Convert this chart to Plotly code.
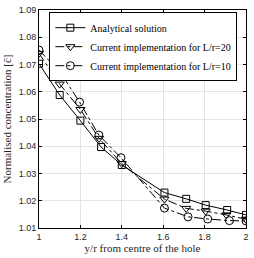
import plotly.graph_objects as go

# Data
x_analytical = [1.0, 1.1, 1.2, 1.3, 1.4, 1.606, 1.711, 1.805, 1.909, 2.0]
y_analytical = [1.0703, 1.0588, 1.0494, 1.0397, 1.0331, 1.0230, 1.0207, 1.0184, 1.0166, 1.0148]

x_l20 = [1.0, 1.1, 1.2, 1.29, 1.4, 1.606, 1.711, 1.805, 1.905, 2.0]
y_l20 = [1.0741, 1.0628, 1.0535, 1.0429, 1.0336, 1.0206, 1.0172, 1.0162, 1.0148, 1.0132]

x_l10 = [1.0, 1.104, 1.196, 1.289, 1.396, 1.606, 1.72, 1.815, 1.92, 2.0]
y_l10 = [1.0753, 1.0670, 1.0562, 1.0441, 1.0358, 1.0173, 1.0141, 1.0133, 1.0127, 1.0126]

x_ticks = [1, 1.2, 1.4, 1.6, 1.8, 2]
y_ticks = [1.01, 1.02, 1.03, 1.04, 1.05, 1.06, 1.07, 1.08, 1.09]

serif = "Liberation Serif"
sans = "Liberation Sans"

fig = go.Figure()
fig.add_trace(go.Scatter(
    x=x_analytical, y=y_analytical, mode="lines+markers",
    name="Analytical solution",
    line=dict(color="black", width=1, dash="solid"),
    marker=dict(symbol="square-open", size=7, color="black", line=dict(width=1, color="black")),
))
fig.add_trace(go.Scatter(
    x=x_l20, y=y_l20, mode="lines+markers",
    name="Current implementation for L/r=20",
    line=dict(color="black", width=1, dash="dashdot"),
    marker=dict(symbol="triangle-down-open", size=8, color="black", line=dict(width=1, color="black")),
))
fig.add_trace(go.Scatter(
    x=x_l10, y=y_l10, mode="lines+markers",
    name="Current implementation for L/r=10",
    line=dict(color="black", width=1, dash="dashdot"),
    marker=dict(symbol="circle-open", size=8, color="black", line=dict(width=1, color="black")),
))

axis_common = dict(
    showline=True, linecolor="black", linewidth=1, mirror="ticks",
    ticks="inside", ticklen=3, tickcolor="black",
    showgrid=True, gridcolor="#e4e4e4", gridwidth=1,
    zeroline=False,
    tickfont=dict(family=sans, size=9, color="#262626"),
)

fig.update_xaxes(
    range=[1, 2], tickvals=x_ticks, ticktext=["1", "1.2", "1.4", "1.6", "1.8", "2"],
    title=dict(text="y/r from centre of the hole", font=dict(family=serif, size=11, color="#262626"), standoff=2),
    **axis_common,
)
fig.update_yaxes(
    range=[1.01, 1.09], tickvals=y_ticks, ticktext=[f"{v:.2f}" for v in y_ticks],
    title=dict(text="Normalised concentration [c\u0304]", font=dict(family=serif, size=11, color="#262626"), standoff=4),
    **axis_common,
)

fig.update_layout(
    width=254, height=258,
    margin=dict(l=39, r=6, t=5, b=30),
    paper_bgcolor="white", plot_bgcolor="white",
    showlegend=True,
    legend=dict(
        x=0.05, y=0.99, xanchor="left", yanchor="top",
        bgcolor="white", bordercolor="black", borderwidth=1,
        font=dict(family=serif, size=10, color="black"),
        tracegroupgap=0, itemwidth=30,
    ),
)

fig.write_html(
    "out.html",
    config={"displayModeBar": False},
    post_script="document.body.style.margin='0';document.body.style.overflow='hidden';",
)
